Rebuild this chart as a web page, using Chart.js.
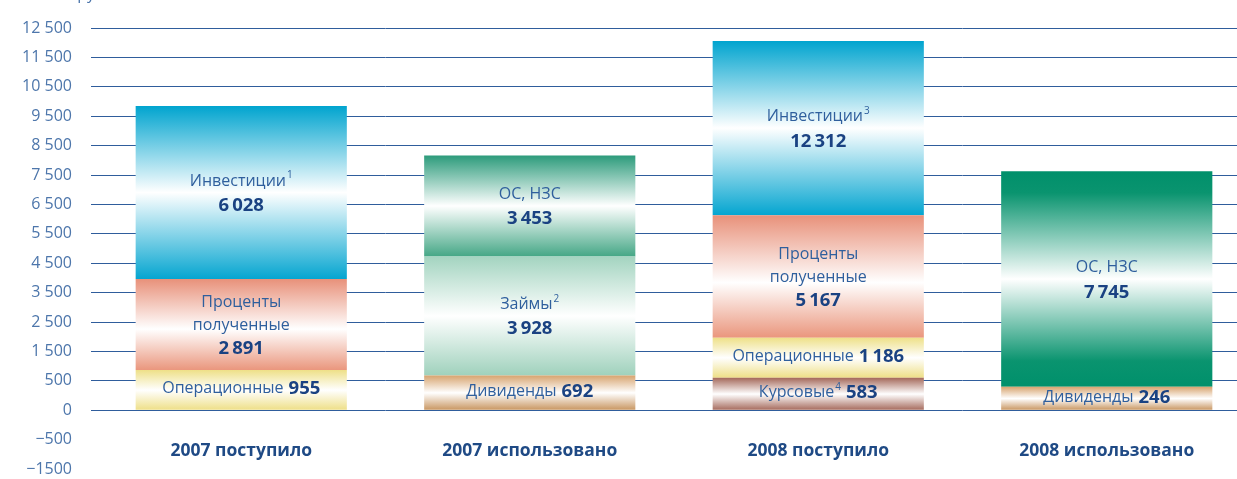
<!DOCTYPE html>
<html>
<head>
<meta charset="utf-8">
<script src="https://cdn.jsdelivr.net/npm/chart.js@4/dist/chart.umd.min.js"></script>
<style>
  html, body { margin: 0; padding: 0; overflow: hidden; background: #ffffff; }
  canvas { display: block; }
</style>
</head>
<body>
<canvas id="chart" width="1252" height="479"></canvas>
<script>
// ---- categories ----
const categories = ['2007 поступило', '2007 использовано', '2008 поступило', '2008 использовано'];

// ---- y tick labels (as printed on the axis, bottom to top) ----
const tickLabels = ['−1500', '−500', '0', '500', '1 500', '2 500', '3 500', '4 500', '5 500',
  '6 500', '7 500', '8 500', '9 500', '10 500', '11 500', '12 500'];

// ---- drawn segment heights, read against the axis grid ----
const kursovye      = [null, null, 1100, null];
const dividendy     = [null, 1180, null, 795];
const operatsionnye = [1365, null, 1365, null];
const zaimy         = [null, 4050, null, null];
const protsenty     = [3095, null, 4165, null];
const osNzs         = [null, 3435, null, 7330];
const investitsii   = [5890, null, 5930, null];

// ---- values printed inside the segments ----
const kursovyeLabel      = [null, null, 583, null];
const dividendyLabel     = [null, 692, null, 246];
const operatsionnyeLabel = [955, null, 1186, null];
const zaimyLabel         = [null, 3928, null, null];
const protsentyLabel     = [2891, null, 5167, null];
const osNzsLabel         = [null, 3453, null, 7745];
const investitsiiLabel   = [6028, null, 12312, null];

// ---- footnote marks ----
const kursovyeNote    = [null, null, '4', null];
const zaimyNote       = [null, '2', null, null];
const investitsiiNote = ['1', null, '3', null];

const FONT = "'Open Sans', 'Noto Sans', 'DejaVu Sans', sans-serif";

function gradientFill(stopsFor) {
  return function (ctx) {
    const chart = ctx.chart;
    const j = ctx.dataIndex, i = ctx.datasetIndex;
    const stops = typeof stopsFor === 'function' ? stopsFor(j || 0) : stopsFor;
    if (ctx.type !== 'data' || !chart.chartArea || !chart.scales.y) return stops[0][1];
    let base = 0;
    for (let k = 0; k < i; k++) {
      const v = chart.data.datasets[k].data[j];
      if (v != null) base += v;
    }
    const val = chart.data.datasets[i].data[j];
    if (val == null) return stops[0][1];
    const yS = chart.scales.y;
    const top = yS.getPixelForValue(base + val);
    const bot = yS.getPixelForValue(base);
    if (!isFinite(top) || !isFinite(bot) || top === bot) return stops[0][1];
    const g = chart.ctx.createLinearGradient(0, top, 0, bot);
    stops.forEach(s => g.addColorStop(s[0], s[1]));
    return g;
  };
}

const osStrong = [[0, '#00906b'], [0.1, '#0a946f'], [0.5, '#ffffff'], [0.88, '#0a946f'], [1, '#00906b']];
const osSoft = [[0, '#2c9b7b'], [0.5, '#ffffff'], [1, '#45a786']];

const datasets = [
  { label: 'Курсовые', data: kursovye, values: kursovyeLabel, notes: kursovyeNote, layout: 'inline',
    name: ['Курсовые'],
    backgroundColor: gradientFill([[0, '#a5695b'], [0.5, '#ffffff'], [1, '#a5695b']]) },
  { label: 'Дивиденды', data: dividendy, values: dividendyLabel, notes: null, layout: 'inline',
    name: ['Дивиденды'],
    backgroundColor: gradientFill([[0, '#d7a46f'], [0.5, '#ffffff'], [1, '#c8955f']]) },
  { label: 'Операционные', data: operatsionnye, values: operatsionnyeLabel, notes: null, layout: 'inline',
    name: ['Операционные'],
    backgroundColor: gradientFill([[0, '#eee088'], [0.5, '#ffffff'], [1, '#eedf86']]) },
  { label: 'Займы', data: zaimy, values: zaimyLabel, notes: zaimyNote, layout: 'stack',
    name: ['Займы'],
    backgroundColor: gradientFill([[0, '#a3d4c0'], [0.5, '#ffffff'], [1, '#9fd1bc']]) },
  { label: 'Проценты полученные', data: protsenty, values: protsentyLabel, notes: null, layout: 'stack',
    name: ['Проценты', 'полученные'],
    backgroundColor: gradientFill([[0, '#e8917a'], [0.55, '#ffffff'], [1, '#ea967d']]) },
  { label: 'ОС, НЗС', data: osNzs, values: osNzsLabel, notes: null, layout: 'stack',
    name: ['ОС, НЗС'],
    backgroundColor: gradientFill((j) => j === 3 ? osStrong : osSoft) },
  { label: 'Инвестиции', data: investitsii, values: investitsiiLabel, notes: investitsiiNote, layout: 'stack',
    name: ['Инвестиции'],
    backgroundColor: gradientFill([[0, '#00a4cf'], [0.5, '#ffffff'], [1, '#04a5d0']]) }
];

function fmt(n) {
  return String(n).replace(/\B(?=(\d{3})+(?!\d))/g, '\u2009');
}

const segmentLabels = {
  id: 'segmentLabels',
  afterDatasetsDraw(chart) {
    const c = chart.ctx;
    const regFont = '16px ' + FONT;
    const boldFont = 'bold 18.5px ' + FONT;
    const supFont = '10px ' + FONT;
    const regColor = '#2f5f9d';
    const boldColor = '#1a4282';
    c.save();
    c.textBaseline = 'middle';
    chart.data.datasets.forEach((ds, i) => {
      const meta = chart.getDatasetMeta(i);
      meta.data.forEach((el, j) => {
        if (ds.data[j] == null) return;
        const cx = el.x;
        const cy = (el.y + el.base) / 2 + 1;
        const note = ds.notes ? ds.notes[j] : null;
        const valTxt = fmt(ds.values[j]);
        if (ds.layout === 'inline') {
          c.font = regFont; const nW = c.measureText(ds.name[0]).width;
          c.font = supFont; const sW = note ? c.measureText(note).width + 1 : 0;
          c.font = boldFont; const vW = c.measureText(valTxt).width;
          const gap = 5;
          const total = nW + sW + gap + vW;
          let x = cx - total / 2;
          const y = cy - 2;
          c.textAlign = 'left';
          c.font = regFont; c.fillStyle = regColor; c.fillText(ds.name[0], x, y); x += nW;
          if (note) { c.font = supFont; c.fillText(note, x + 1, y - 6); x += sW; }
          x += gap;
          c.font = boldFont; c.fillStyle = boldColor; c.fillText(valTxt, x, y);
        } else {
          const lines = ds.name.length + 1;
          const lh = lines === 3 ? 23.5 : 24.5;
          let y = cy - (lines - 1) * lh / 2;
          c.textAlign = 'left';
          ds.name.forEach((nm, k) => {
            c.font = regFont; const nW = c.measureText(nm).width;
            const isLast = k === ds.name.length - 1;
            let sW = 0;
            if (isLast && note) { c.font = supFont; sW = c.measureText(note).width + 1; }
            let x = cx - (nW + sW) / 2;
            c.font = regFont; c.fillStyle = regColor; c.fillText(nm, x, y);
            if (isLast && note) { c.font = supFont; c.fillText(note, x + nW + 1, y - 6); }
            y += lh;
          });
          c.font = boldFont; c.fillStyle = boldColor; c.textAlign = 'center';
          c.fillText(valTxt, cx, y);
        }
      });
    });
    // unit caption cut off at the top edge
    c.font = '16px ' + FONT;
    c.fillStyle = '#4a74aa';
    c.textAlign = 'left';
    c.textBaseline = 'alphabetic';
    c.fillText('млн руб.', 42, -1);
    c.restore();
  }
};

new Chart(document.getElementById('chart'), {
  type: 'bar',
  data: { labels: categories, datasets: datasets },
  options: {
    responsive: false,
    animation: false,
    layout: { padding: { top: 28, bottom: 10, left: 0, right: 1 } },
    plugins: { legend: { display: false }, tooltip: { enabled: false } },
    datasets: { bar: { categoryPercentage: 1.0, barPercentage: 0.732, borderWidth: 0 } },
    scales: {
      x: {
        type: 'category',
        stacked: true,
        position: { y: 0 },
        afterFit(scale) { scale.height = 0; },
        grid: { display: false, drawTicks: false },
        border: { display: false },
        ticks: { color: '#1f4a85', font: { family: FONT, size: 17.5, weight: 'bold' }, padding: 30 }
      },
      y: {
        stacked: true,
        min: -2000,
        max: 13000,
        afterFit(scale) { scale.width = 97; scale.paddingTop = 8; scale.paddingBottom = 8; },
        border: { display: false },
        grid: {
          color: (ctx) => (ctx.tick && ctx.tick.value < 0) ? 'rgba(0,0,0,0)' : '#2f5d9c',
          tickColor: (ctx) => (ctx.tick && ctx.tick.value < 0) ? 'rgba(0,0,0,0)' : '#2f5d9c',
          tickLength: 6,
          lineWidth: 1
        },
        ticks: {
          stepSize: 1000,
          padding: 19,
          color: '#4d76ab',
          font: { family: FONT, size: 16 },
          callback: (v) => tickLabels[Math.round(v / 1000) + 2]
        }
      }
    }
  },
  plugins: [segmentLabels]
});
</script>
</body>
</html>
